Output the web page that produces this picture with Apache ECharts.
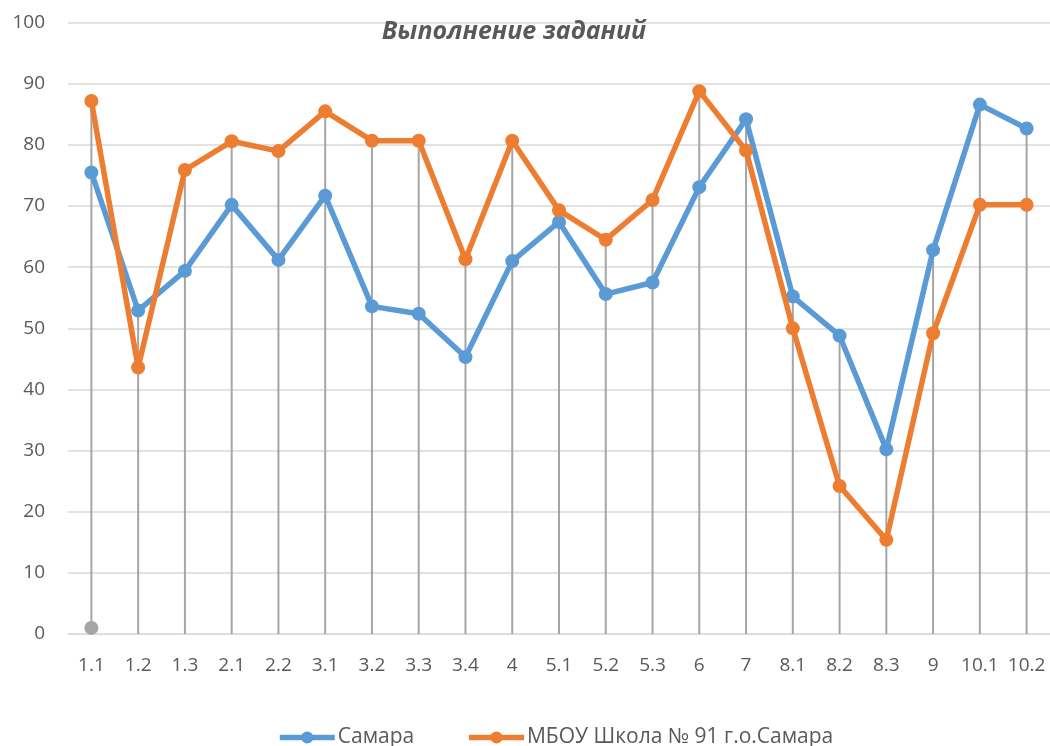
<!DOCTYPE html>
<html><head><meta charset="utf-8">
<script src="https://cdn.jsdelivr.net/npm/echarts@6/dist/echarts.min.js"></script>
<style>html,body{margin:0;padding:0;background:#fff}#c{width:1050px;height:746px}</style>
</head><body><div id="c"></div>
<script>
const categories = ['1.1','1.2','1.3','2.1','2.2','3.1','3.2','3.3','3.4','4','5.1','5.2','5.3','6','7','8.1','8.2','8.3','9','10.1','10.2'];
const samara = [75.5,52.9,59.4,70.2,61.2,71.7,53.6,52.4,45.3,61.0,67.4,55.6,57.5,73.1,84.2,55.2,48.8,30.2,62.8,86.6,82.7];
const school = [87.2,43.6,75.9,80.6,79.0,85.5,80.7,80.7,61.3,80.7,69.3,64.5,71.0,88.8,79.1,50.0,24.2,15.4,49.2,70.2,70.2];
const third = [1,'-','-','-','-','-','-','-','-','-','-','-','-','-','-','-','-','-','-','-','-'];
const yTicks = {min:0, max:100, interval:10};
const seriesNames = ['Самара','МБОУ Школа № 91 г.о.Самара'];
const title = 'Выполнение заданий';

const dropTop = categories.map((c,i)=>Math.max(samara[i], school[i], typeof third[i]==='number'?third[i]:0));
const font = 'Open Sans';
const chart = echarts.init(document.getElementById('c'));
chart.setOption({
  animation:false,
  backgroundColor:'#fff',
  title:{text:title,left:509,top:14,textAlign:'center',textStyle:{fontFamily:font,fontSize:25,fontWeight:'bold',fontStyle:'italic',color:'#595959'}},
  grid:{left:68,right:0,top:22.7,bottom:112,containLabel:false},
  legend:{left:272,top:722,itemWidth:55,itemHeight:15,itemGap:52,data:seriesNames,
    lineStyle:{width:5.5},
    textStyle:{fontFamily:font,fontSize:21,color:'#595959',padding:[0,0,0,-2]}},
  xAxis:{type:'category',data:categories,boundaryGap:true,
    axisLine:{show:true,lineStyle:{color:'#d9d9d9',width:1}},axisTick:{show:false},
    axisLabel:{interval:0,fontFamily:font,fontSize:19,color:'#595959',margin:22},splitLine:{show:false}},
  yAxis:{type:'value',min:yTicks.min,max:yTicks.max,interval:yTicks.interval,
    axisLine:{show:false},axisTick:{show:false},
    axisLabel:{fontFamily:font,fontSize:19,color:'#595959',margin:23},
    splitLine:{lineStyle:{color:'#d9d9d9',width:1.5}}},
  series:[
    {name:'drop',type:'bar',data:dropTop,barWidth:2,itemStyle:{color:'#a5a5a5'},z:1,silent:true,legendHoverLink:false},
    {name:seriesNames[0],type:'line',data:samara,symbol:'circle',symbolSize:14,
      lineStyle:{color:'#5B9BD5',width:5.5},itemStyle:{color:'#5B9BD5'},z:3},
    {name:seriesNames[1],type:'line',data:school,symbol:'circle',symbolSize:14,
      lineStyle:{color:'#ED7D31',width:5.5},itemStyle:{color:'#ED7D31'},z:4},
    {name:'third',type:'line',data:third,symbol:'circle',symbolSize:14,showSymbol:true,
      lineStyle:{color:'#a5a5a5',width:5},itemStyle:{color:'#a5a5a5'},z:2}
  ]
});
</script></body></html>
